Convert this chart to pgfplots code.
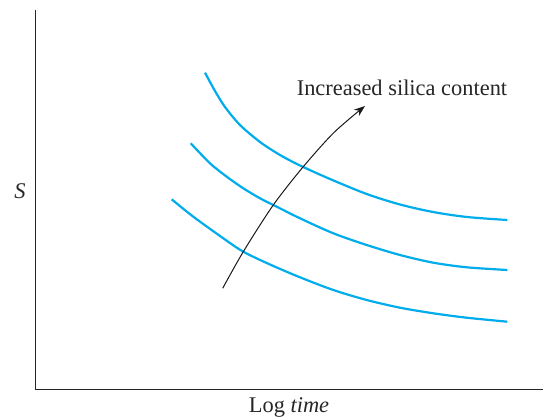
\documentclass[border=0pt]{standalone}
\usepackage{pgfplots}
\pgfplotsset{compat=1.18}
\usepackage{fontspec}
\setmainfont{Liberation Serif}
\usetikzlibrary{arrows.meta}
\definecolor{curvecyan}{RGB}{0,172,236}
\begin{document}
\begin{tikzpicture}
\begin{axis}[
  scale only axis,
  width=508bp, height=379bp,
  xmin=35, xmax=543, ymin=29, ymax=408,
  axis x line=bottom, axis y line=left,
  axis line style={-, line width=1bp, black!85},
  xtick=\empty, ytick=\empty,
  clip=false,
]
% top curve
\addplot[curvecyan, line width=2.2bp, smooth] coordinates {
 (205,345.3) (215,327) (225,311) (240,293) (260,276) (280,263) (300,252.5)
 (330,239) (366.7,224) (400,213.5) (433,206) (467,201) (507.3,198)};
% middle curve
\addplot[curvecyan, line width=2.2bp, smooth] coordinates {
 (190.7,274.7) (210,254.7) (226.7,241.3) (243.3,229.7) (260,219.7) (276.7,211.3)
 (300,199.7) (333.3,184.7) (366.7,173) (400,163) (433.3,155.3)
 (466.7,150.7) (507.3,148)};
% bottom curve
\addplot[curvecyan, line width=2.2bp, smooth] coordinates {
 (171.7,218.7) (193.3,201.3) (223.3,179.7) (243.3,166.3) (270,153.5) (300,140.7)
 (333.3,128) (366.7,118) (400,110.3) (433.3,104.7) (466.7,100.3) (507.3,96.3)};
% arrow
\addplot[black!90, line width=1bp, smooth, -{Stealth[length=11bp,width=8bp]}] coordinates {
 (222.7,129.7) (243.3,166.3) (273.3,213) (303.3,251.3) (334,285.5) (365,312)};
\node[anchor=base, inner sep=0pt, font=\fontsize{22.5}{26}\selectfont, text=black!85] at (axis cs:402,322) {Increased silica content};
\node[anchor=base, inner sep=0pt, font=\fontsize{22.5}{26}\selectfont\itshape, text=black!85] at (axis cs:20,219) {S};
\node[anchor=base, inner sep=0pt, font=\fontsize{22.5}{26}\selectfont, text=black!85] at (axis cs:289,6) {Log \textit{time}};
\end{axis}
\path[use as bounding box] (current axis.south west) ++(-35bp,-29bp) rectangle ([shift={(6bp,10bp)}]current axis.north east);
\end{tikzpicture}
\end{document}
